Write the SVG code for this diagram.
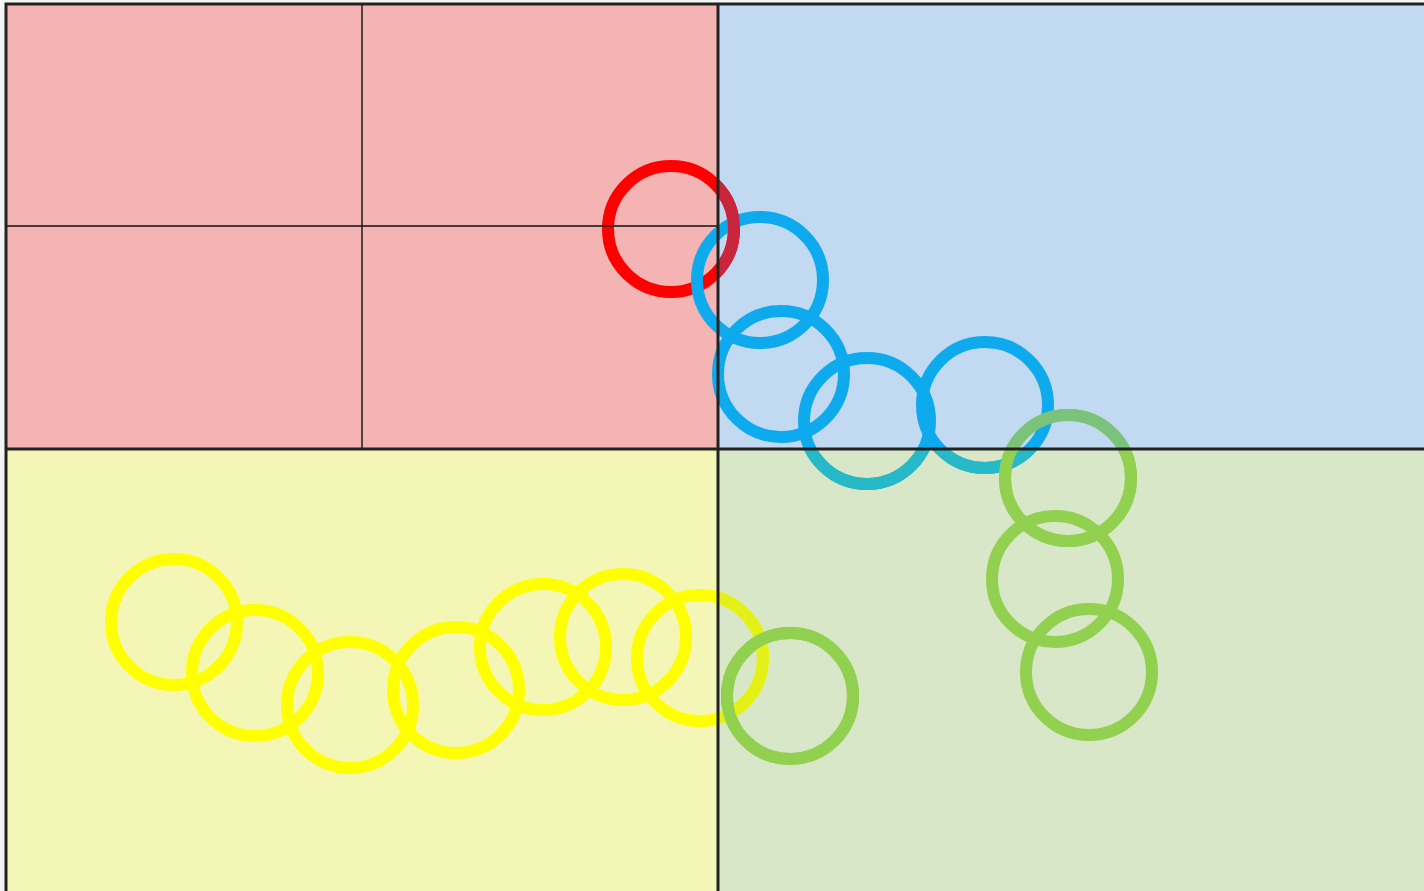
<svg xmlns="http://www.w3.org/2000/svg" width="1424" height="891" viewBox="0 0 1424 891">
<defs>
<style>
.ring{fill:none;stroke-width:12}
.r{stroke:#ff0000}.b{stroke:#0eaaee}.g{stroke:#92d050}.y{stroke:#ffff00}
.thick{stroke:#222;stroke-width:3;fill:none}
.thin{stroke:#111;stroke-width:1.4;fill:none}
</style>
<clipPath id="cRight"><rect x="718" y="0" width="706" height="891"/></clipPath>
<clipPath id="cBottom"><rect x="0" y="449" width="1424" height="442"/></clipPath>
<clipPath id="cTop"><rect x="0" y="0" width="1424" height="449"/></clipPath>
</defs>
<rect width="1424" height="891" fill="#f4f4f4"/>
<g id="quadrants">
<rect x="6" y="4" width="712" height="445" fill="#f4b4b4"/>
<rect x="718" y="4" width="710" height="445" fill="#c2daf1"/>
<rect x="6" y="449" width="712" height="446" fill="#f4f6b6"/>
<rect x="718" y="449" width="710" height="446" fill="#d9e7c9"/>
</g>
<g id="circles">
<circle id="red1" class="ring r" cx="671" cy="229" r="63"/>
<circle id="blue1" class="ring b" cx="760" cy="280" r="63"/>
<circle id="blue2" class="ring b" cx="781" cy="374" r="63"/>
<circle id="blue3" class="ring b" cx="867" cy="421" r="63"/>
<circle id="blue4" class="ring b" cx="985" cy="405" r="63"/>
<circle id="green1" class="ring g" cx="1068" cy="478" r="63"/>
<circle id="green2" class="ring g" cx="1055" cy="579" r="63"/>
<circle id="green3" class="ring g" cx="1089" cy="672" r="63"/>
<circle id="green4" class="ring g" cx="790" cy="696" r="63"/>
<circle id="yellow1" class="ring y" cx="174" cy="622" r="63"/>
<circle id="yellow2" class="ring y" cx="255" cy="673" r="63"/>
<circle id="yellow3" class="ring y" cx="350" cy="705" r="63"/>
<circle id="yellow4" class="ring y" cx="456" cy="690" r="63"/>
<circle id="yellow5" class="ring y" cx="543" cy="647" r="63"/>
<circle id="yellow6" class="ring y" cx="623" cy="637" r="63"/>
<circle id="yellow7" class="ring y" cx="700" cy="658" r="63"/>
</g>
<g id="blends">
<circle class="ring" stroke="#c9263e" cx="671" cy="229" r="63" clip-path="url(#cRight)"/>
<g clip-path="url(#cBottom)">
<circle class="ring" stroke="#28b9c8" cx="867" cy="421" r="63"/>
<circle class="ring" stroke="#28b9c8" cx="985" cy="405" r="63"/>
<circle class="ring g" cx="1068" cy="478" r="63"/>
</g>
<circle class="ring" stroke="#7bc27a" cx="1068" cy="478" r="63" clip-path="url(#cTop)"/>
<circle class="ring" stroke="#e4f117" cx="700" cy="658" r="63" clip-path="url(#cRight)"/>
<circle class="ring g" cx="790" cy="696" r="63"/>
</g>
<g id="lines">
<line class="thin" x1="6" y1="226" x2="718" y2="226"/>
<line class="thin" x1="362" y1="4" x2="362" y2="449"/>
<rect class="thick" x="6" y="4" width="1430" height="900"/>
<line class="thick" x1="718" y1="4" x2="718" y2="891"/>
<line class="thick" x1="6" y1="449" x2="1424" y2="449"/>
</g>
</svg>
